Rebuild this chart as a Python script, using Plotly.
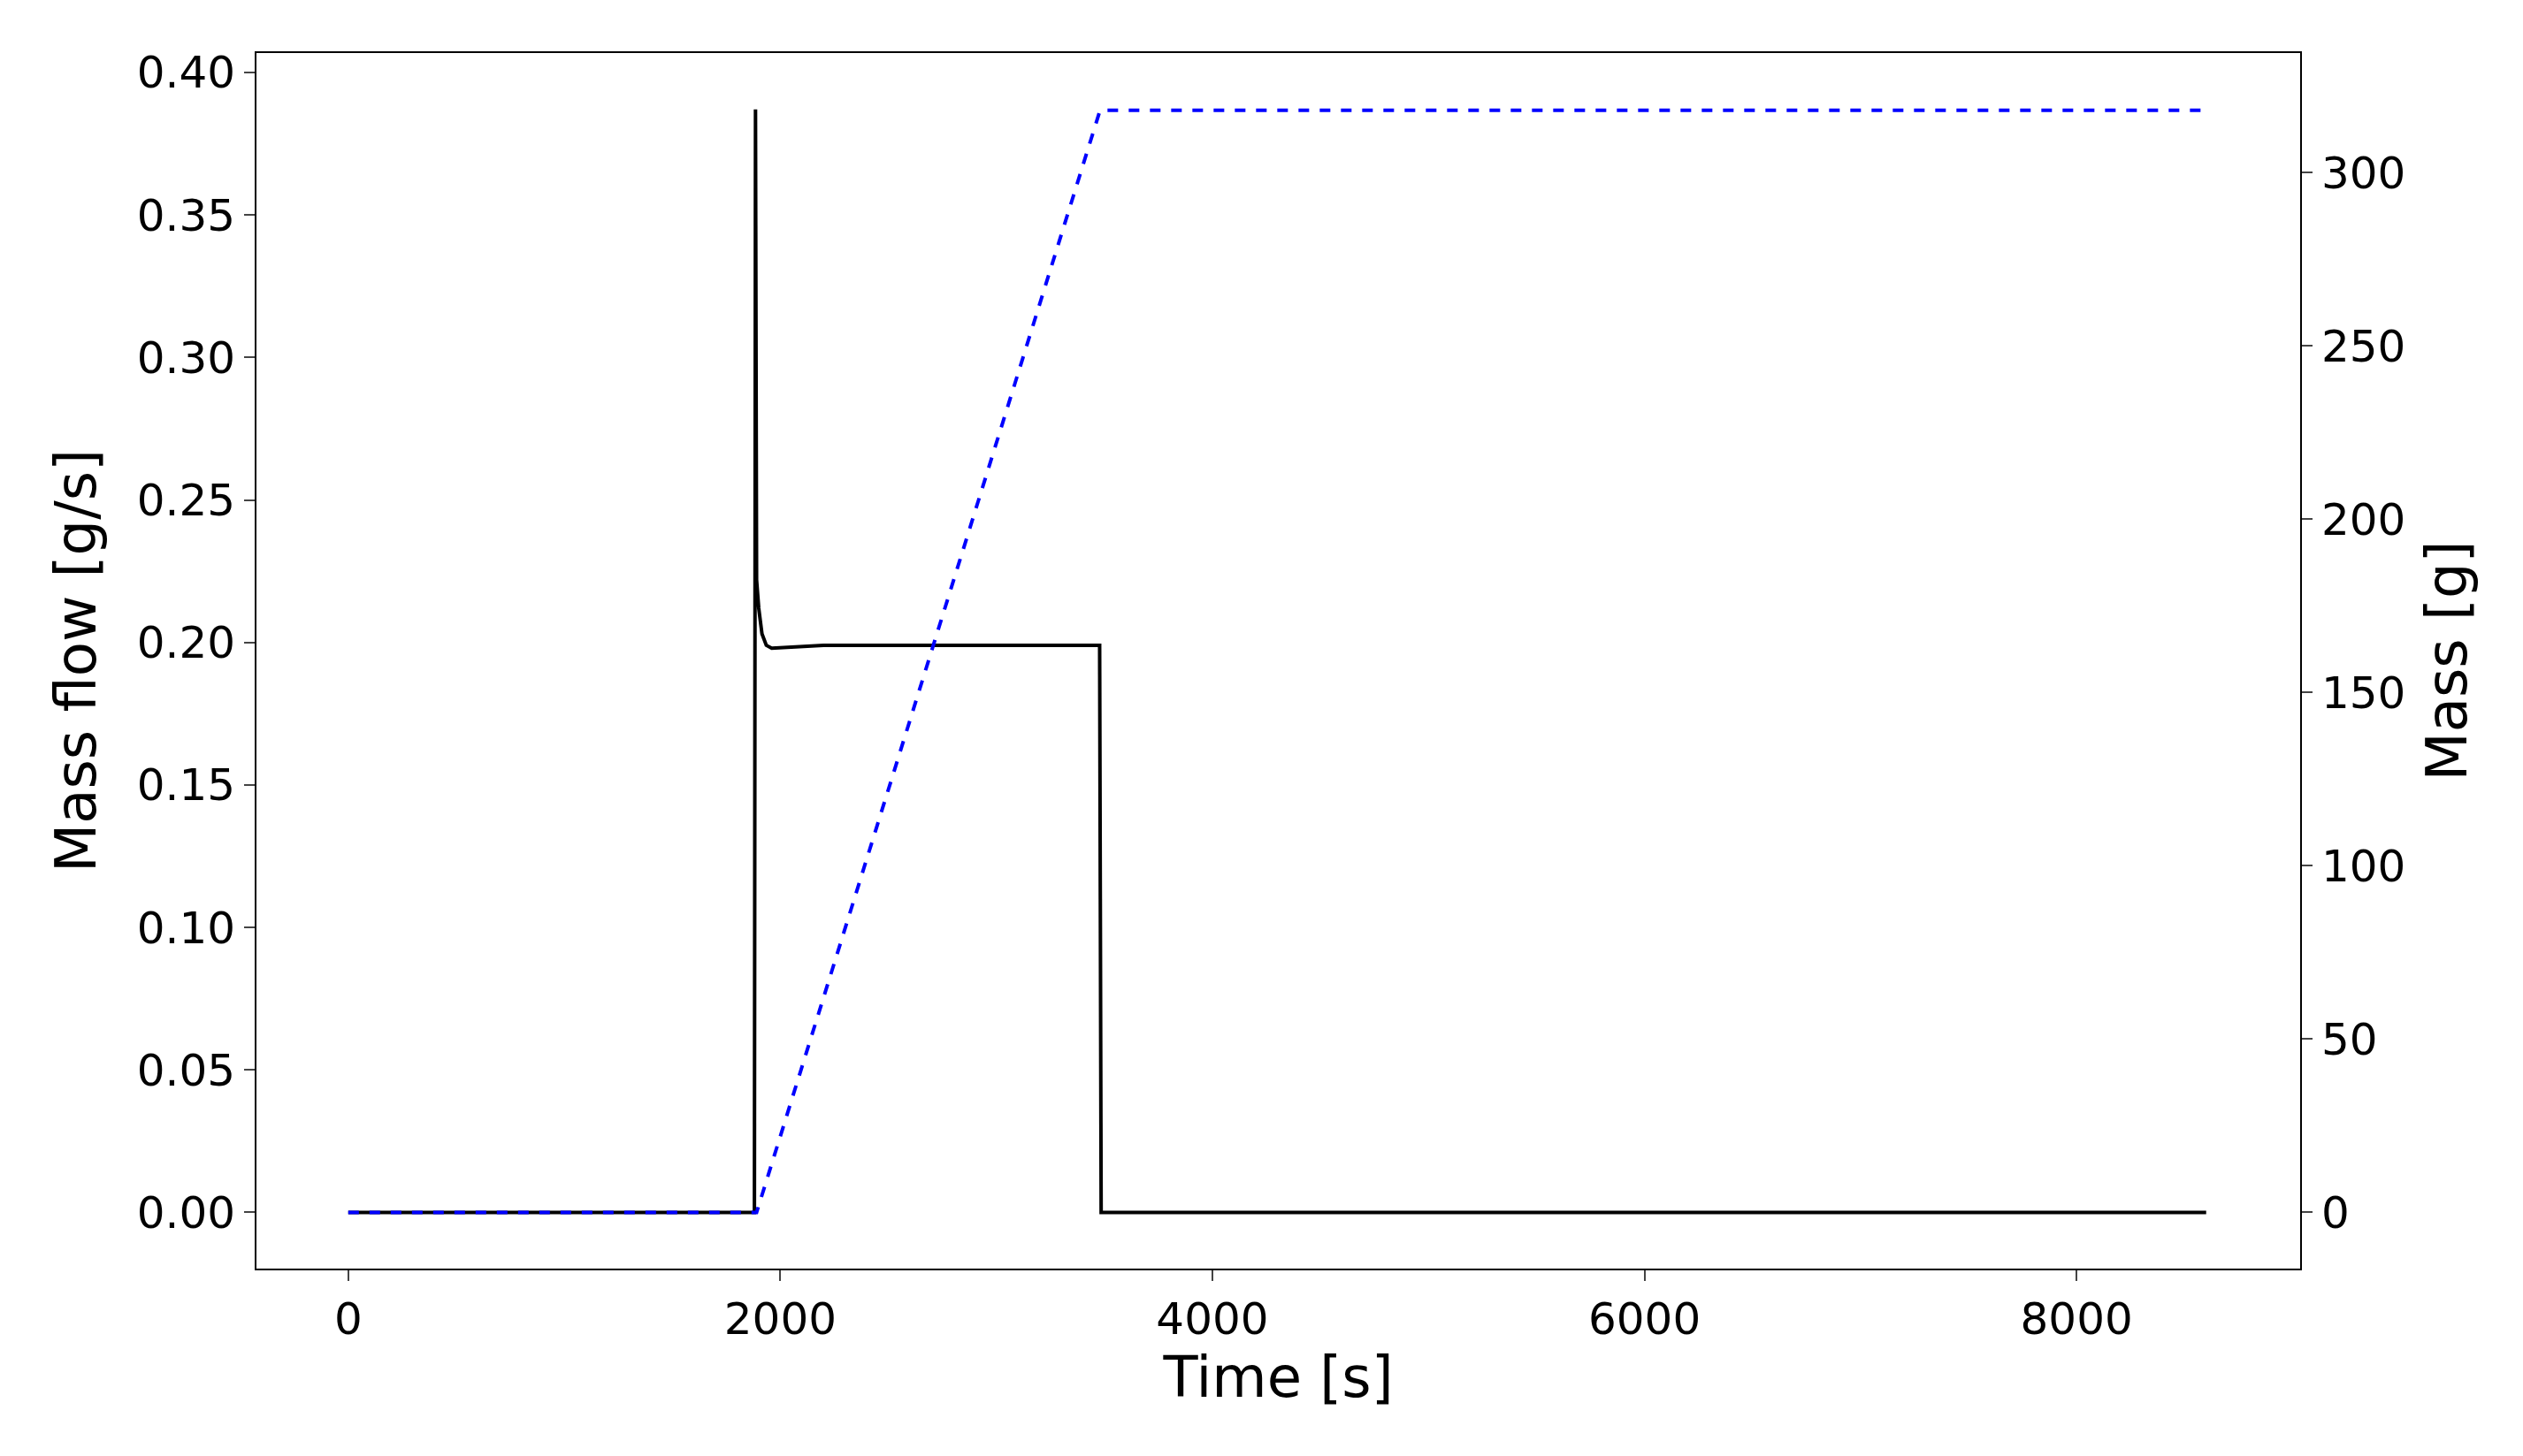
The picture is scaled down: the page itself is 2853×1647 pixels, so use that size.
import plotly.graph_objects as go

# Mass flow trace (black)
flow_time = [0, 1000, 1880, 1885, 1890, 1900, 1915, 1935, 1960, 2200, 2600, 3000, 3400, 3478, 3485, 5000, 7000, 8600]
flow_rate = [0, 0, 0, 0.387, 0.222, 0.212, 0.203, 0.199, 0.198, 0.199, 0.199, 0.199, 0.199, 0.199, 0.0, 0.0, 0.0, 0.0]

# Cumulative mass trace (blue dashed)
mass_time = [0, 1890, 3480, 8600]
mass_value = [0, 0, 318, 318]

font = "DejaVu Sans"

fig = go.Figure()
fig.add_trace(go.Scatter(x=flow_time, y=flow_rate, mode="lines",
                         line=dict(color="black", width=4), showlegend=False))
fig.add_trace(go.Scatter(x=mass_time, y=mass_value, mode="lines", yaxis="y2",
                         line=dict(color="blue", width=4, dash="dash"), showlegend=False))

axis_common = dict(showgrid=False, zeroline=False, showline=True, linecolor="black",
                   linewidth=2, ticks="outside", ticklen=12, tickwidth=2,
                   tickfont=dict(size=50, color="black"), mirror=False)

fig.update_layout(
    width=2853, height=1647,
    paper_bgcolor="white", plot_bgcolor="white",
    font=dict(family=font, color="black"),
    margin=dict(l=282, r=260, t=52, b=220),
    xaxis=dict(axis_common, range=[-425, 9035], tickvals=[0, 2000, 4000, 6000, 8000],
               title=dict(text="Time [s]", font=dict(size=64), standoff=10), mirror=True),
    yaxis=dict(axis_common, range=[-0.0197, 0.4068],
               tickvals=[0, 0.05, 0.1, 0.15, 0.2, 0.25, 0.3, 0.35, 0.4], tickformat=".2f",
               title=dict(text="Mass flow [g/s]", font=dict(size=64), standoff=25)),
    yaxis2=dict(axis_common, overlaying="y", side="right", range=[-16.2, 334.5],
                tickvals=[0, 50, 100, 150, 200, 250, 300],
                title=dict(text="Mass [g]", font=dict(size=64), standoff=25)),
)

fig.write_html("out.html")
